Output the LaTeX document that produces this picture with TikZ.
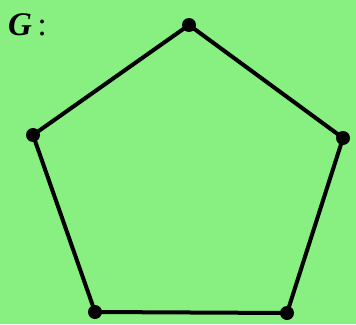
\documentclass[tikz,border=0pt]{standalone}
\usepackage{fontspec}
\setmainfont{Liberation Serif}
\definecolor{bg}{RGB}{135,240,128}
\begin{document}
\begin{tikzpicture}[x=1pt,y=-1pt,
  vtx/.style={circle,fill=black,inner sep=0pt,minimum size=14pt},
  edge/.style={line width=4pt}]
\fill[bg] (0,0) rectangle (356,324);
\useasboundingbox (0,0) rectangle (356,324);
\node[anchor=base west,inner sep=0pt,font=\fontsize{33}{38}\selectfont] (lbl) at (8,35) {\textbf{\textit{G}}\,:};
\node[vtx] (a) at (189,25) {};
\node[vtx] (b) at (343,138) {};
\node[vtx] (c) at (287,313) {};
\node[vtx] (d) at (95,312) {};
\node[vtx] (e) at (33,135) {};
\draw[edge] (a.center) -- (b.center) -- (c.center) -- (d.center) -- (e.center) -- (a.center);
\end{tikzpicture}
\end{document}
